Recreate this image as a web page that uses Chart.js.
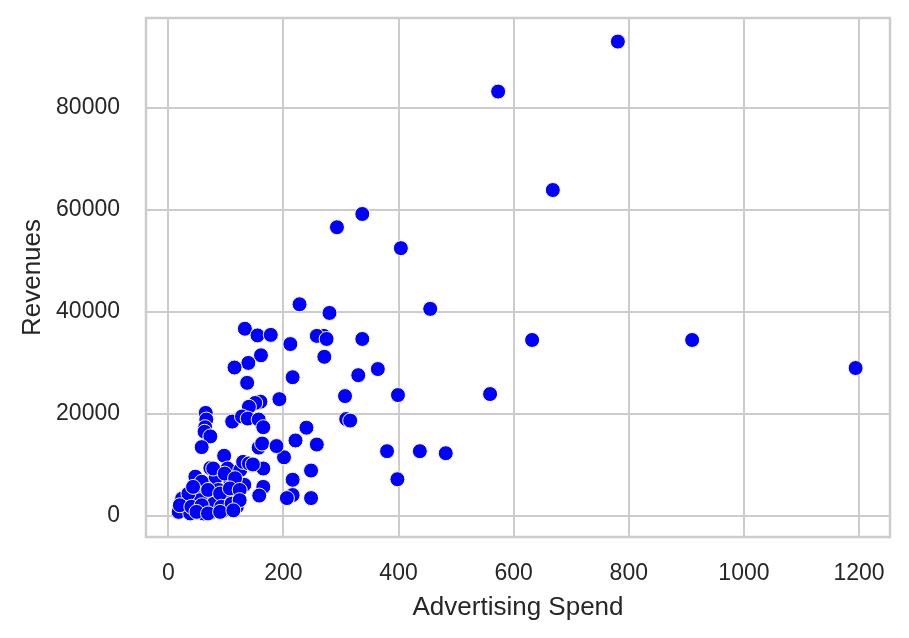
<!DOCTYPE html>
<html>
<head>
<meta charset="utf-8">
<script src="https://cdn.jsdelivr.net/npm/chart.js@4.4.1/dist/chart.umd.min.js"></script>
<style>
  html, body { margin: 0; padding: 0; background: #ffffff; }
  #wrap { width: 909px; height: 638px; position: relative; }
</style>
</head>
<body>
<div id="wrap"><canvas id="scatter"></canvas></div>
<script>
/* ========== Data ========== */
const adSpend = [
  781, 573, 668, 910, 1194, 632, 559, 404, 455, 337,
  293, 228, 280, 337, 270, 258, 275, 271, 364, 330,
  307, 399, 309, 316, 380, 437, 482, 398, 248, 258,
  240, 221, 216, 212, 248, 216, 206, 216, 201, 193,
  133, 155, 178, 161, 139, 115, 137, 160, 151, 140,
  65, 66, 64, 63, 73, 58, 111, 128, 138, 157,
  165, 157, 163, 188, 97, 73, 103, 125, 145, 165,
  130, 140, 147, 165, 158, 132, 82, 47, 55, 64,
  85, 99, 119, 24, 18, 38, 58, 76, 96, 87,
  55, 47, 55, 73, 61, 79, 108, 78, 98, 116,
  58, 69, 90, 107, 124, 35, 43, 20, 40, 58,
  92, 110, 124, 49, 69, 90, 113
];
const revenues = [
  93000, 83200, 63900, 34500, 29000, 34500, 23900, 52500, 40600, 59200,
  56600, 41500, 39800, 34700, 35300, 35300, 34700, 31200, 28800, 27600,
  23500, 23700, 19000, 18700, 12700, 12700, 12300, 7200, 8900, 14000,
  17300, 14800, 27200, 33700, 3500, 4100, 3500, 7100, 11500, 22900,
  36700, 35400, 35500, 31500, 30000, 29100, 26100, 22400, 22150, 21400,
  20200, 18900, 17400, 16500, 15600, 13500, 18500, 19500, 19100, 18900,
  17400, 13400, 14200, 13700, 11800, 9400, 9300, 9000, 10000, 9300,
  10600, 10300, 10100, 5700, 4000, 6100, 7400, 7700, 5700, 5700,
  4100, 3700, 1800, 3400, 800, 500, 2800, 800, 1100, 5100,
  5100, 4100, 3100, 1400, 500, 2400, 6700, 9300, 8300, 7400,
  6700, 5100, 4400, 5400, 5100, 4400, 5700, 2100, 1800, 2100,
  1800, 2400, 3100, 800, 500, 800, 1100
];
const xTicks = [0, 200, 400, 600, 800, 1000, 1200];
const yTicks = [0, 20000, 40000, 60000, 80000];

/* ========== Style ========== */
const GRID = '#cccccc';
const TEXT = '#262626';
const FONT = "'Liberation Sans', Arial, sans-serif";

const points = adSpend.map((x, i) => ({ x: x, y: revenues[i] }));

/* ========== Spines Plugin ========== */
const spinePlugin = {
  id: 'spines',
  beforeDatasetsDraw(chart) {
    const { ctx, chartArea: a } = chart;
    ctx.save();
    ctx.strokeStyle = GRID;
    ctx.lineWidth = 2.5;
    ctx.strokeRect(a.left, a.top, a.right - a.left, a.bottom - a.top);
    ctx.restore();
  }
};

// fixed box sizes, no extra label padding at the ends
function fixBox(size, horizontal) {
  return s => {
    if (horizontal) s.height = size; else s.width = size;
    s.paddingTop = 0; s.paddingBottom = 0;
    s.paddingLeft = 0; s.paddingRight = 0;
  };
}

/* ========== Chart ========== */
new Chart(document.getElementById('scatter'), {
  type: 'scatter',
  data: {
    datasets: [{
      label: 'Revenues',
      data: points,
      backgroundColor: '#0000ff',
      borderColor: '#ffffff',
      borderWidth: 1,
      pointRadius: 7.5,
      pointHoverRadius: 7.5
    }]
  },
  options: {
    responsive: true,
    maintainAspectRatio: false,
    animation: false,
    layout: { padding: { top: 18, right: 19, bottom: 0, left: 0 } },
    plugins: {
      legend: { display: false },
      tooltip: { enabled: false }
    },
    scales: {
      x: {
        type: 'linear',
        min: -38.75,
        max: 1253.75,
        afterBuildTicks: s => { s.ticks = xTicks.map(v => ({ value: v })); },
        afterFit: fixBox(101, true),
        grid: { color: GRID, lineWidth: 2, drawTicks: false },
        border: { display: false },
        ticks: {
          padding: 23,
          color: TEXT,
          font: { family: FONT, size: 23 },
          callback: v => String(v)
        },
        title: {
          display: true,
          text: 'Advertising Spend',
          color: TEXT,
          font: { family: FONT, size: 26 },
          padding: { top: 0, bottom: 15 }
        }
      },
      y: {
        type: 'linear',
        min: -4125,
        max: 97625,
        afterBuildTicks: s => { s.ticks = yTicks.map(v => ({ value: v })); },
        afterFit: fixBox(146, false),
        grid: { color: GRID, lineWidth: 2, drawTicks: false },
        border: { display: false },
        ticks: {
          padding: 26,
          color: TEXT,
          font: { family: FONT, size: 23 },
          callback: v => String(v)
        },
        title: {
          display: true,
          text: 'Revenues',
          color: TEXT,
          font: { family: FONT, size: 26 },
          padding: { top: 17, bottom: 0 }
        }
      }
    }
  },
  plugins: [spinePlugin]
});
</script>
</body>
</html>
